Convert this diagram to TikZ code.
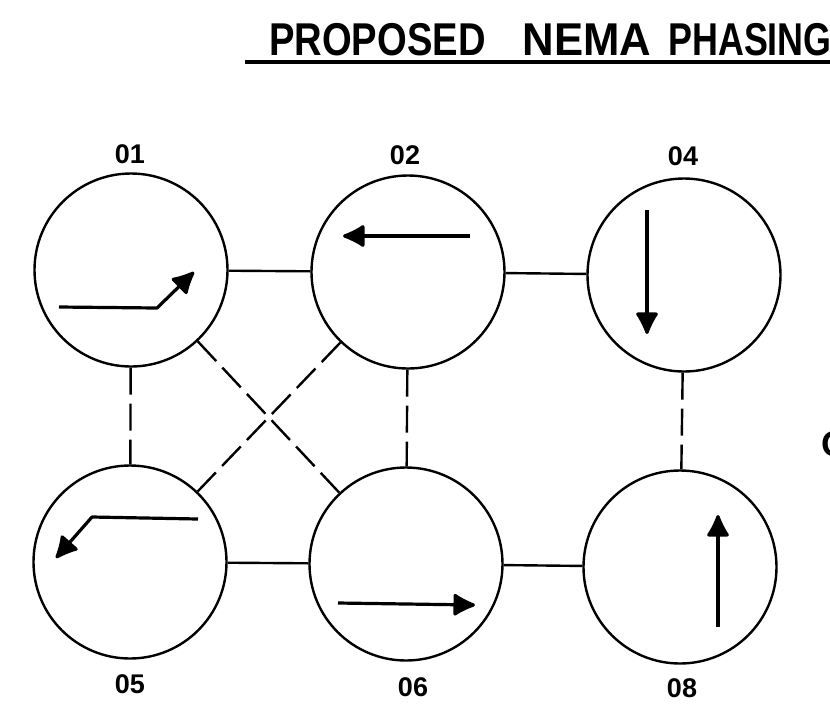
\documentclass[tikz,border=0pt]{standalone}
\usepackage{fontspec}
\setmainfont{Liberation Sans}
\usepackage{graphicx}
\usetikzlibrary{arrows.meta}
\begin{document}
\begin{tikzpicture}[x=1pt,y=-1pt,
  phase/.style={circle,draw,line width=2.4pt,minimum size=193pt,inner sep=0pt},
  conn/.style={line width=2.4pt},
  dconn/.style={line width=2.4pt,dash pattern=on 27pt off 9pt},
  mov/.style={line width=3.2pt,line join=round,-{Latex[length=25pt,width=25pt,round]}},
  lab/.style={font=\bfseries\fontsize{27}{27}\selectfont,inner sep=0pt}
]
\useasboundingbox (0,0) rectangle (830,716);
\fill[white] (0,0) rectangle (830,716);
\clip (0,0) rectangle (830,716);

% title
\node[anchor=base west,inner sep=0pt,font=\bfseries\fontsize{46}{46}\selectfont] (title) at (269,55)
  {\scalebox{0.83}[1]{PROPOSED}\hspace{37pt}\scalebox{0.95}[1]{NEMA}\hspace{17pt}\scalebox{0.78}[1]{PHASING}};
\draw[line width=4pt] (245,62) -- (840,62);

% partial text at right edge
\node[anchor=west,inner sep=0pt,font=\bfseries\fontsize{36}{36}\selectfont] (edge) at (821,444) {O};

% phase circles
\node[phase] (c01) at (131,270) {};
\node[phase] (c02) at (408,272) {};
\node[phase] (c04) at (684,275) {};
\node[phase] (c05) at (130,562) {};
\node[phase] (c06) at (406,564) {};
\node[phase] (c08) at (680,567) {};

% labels
\node[lab] (l01) at (130,154) {01};
\node[lab] (l02) at (405,155) {02};
\node[lab] (l04) at (683,156) {04};
\node[lab] (l05) at (130,684) {05};
\node[lab] (l06) at (413,687) {06};
\node[lab] (l08) at (682,688) {08};

% connectors
\draw[conn] (c01) -- (c02);
\draw[conn] (c02) -- (c04);
\draw[conn] (c05) -- (c06);
\draw[conn] (c06) -- (c08);
\draw[dconn] (c01) -- (c05);
\draw[dconn] (c02) -- (c06);
\draw[dconn] (c04) -- (c08);
\draw[dconn] (c01) -- (c06);
\draw[dconn] (c02) -- (c05);

% movement arrows
\draw[mov] (59,307) -- (157,308) -- (194,272);
\draw[mov] (470,236) -- (343,236);
\draw[mov] (647,210) -- (647,334);
\draw[mov] (198,519) -- (92,517) -- (56,558);
\draw[mov] (338,603) -- (475,605);
\draw[mov] (718,627) -- (718,515);
\end{tikzpicture}
\end{document}
